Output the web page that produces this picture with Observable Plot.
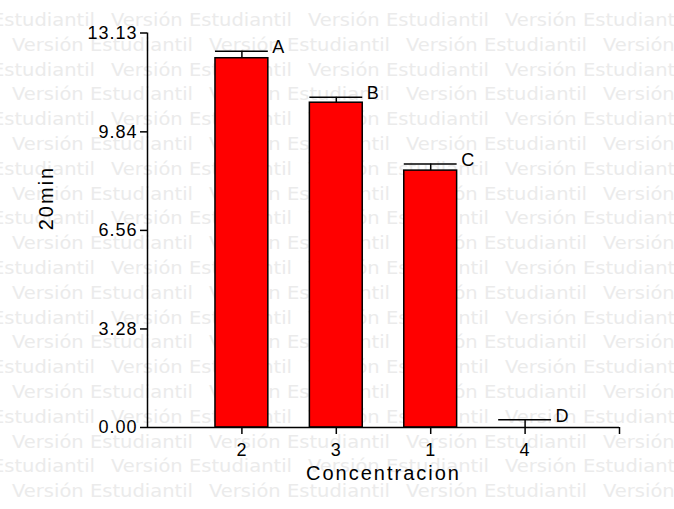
<!DOCTYPE html>
<html><head><meta charset="utf-8">
<script src="https://cdn.jsdelivr.net/npm/d3@7"></script>
<script src="https://cdn.jsdelivr.net/npm/@observablehq/plot@0.6"></script>
<style>
html,body{margin:0;padding:0;background:#fff;}
#wrap{position:relative;width:674px;height:509px;overflow:hidden;}
#wm{position:absolute;left:0;top:0;}
#chart{position:absolute;left:0;top:0;}
#chart svg{background:transparent !important;}
#chart svg text{letter-spacing:1px;}
</style></head><body>
<div id="wrap"><svg id="wm" width="674" height="509"></svg><div id="chart"></div></div>
<script>
const categories = ["2", "3", "1", "4"];
const means = [12.29, 10.81, 8.55, 0];
const errors = [0.23, 0.18, 0.22, 0.26];
const letters = ["A", "B", "C", "D"];
const yTicks = [0, 3.28, 6.56, 9.84, 13.13];
const xLabel = "Concentracion";
const yLabel = "20min";
const watermark = "Versión Estudiantil";

const data = categories.map((c, i) => ({cat: c, pos: i + 1, mean: means[i], top: means[i] + errors[i], letter: letters[i]}));
const half = 0.28;

// background watermark (decorative)
const wm = d3.select("#wm");
for (let r = 0; r < 20; r++) {
  const y = 26 + r * 24.8;
  const start = r % 2 === 0 ? -86 : 12;
  for (let k = 0; k < 5; k++) {
    const x = start + k * 197;
    if (x > 674) break;
    wm.append("text").attr("x", x).attr("y", y)
      .attr("textLength", 181).attr("lengthAdjust", "spacingAndGlyphs")
      .attr("font-family", "DejaVu Sans").attr("font-size", 18.5)
      .attr("fill", "#ebebeb").text(watermark);
  }
}

const xTickPos = categories.map((c, i) => i + 1).concat([categories.length + 1]);
const xTickLabels = categories.concat([""]);

const plot = Plot.plot({
  width: 674, height: 509,
  marginLeft: 147, marginRight: 55, marginTop: 32.5, marginBottom: 82,
  style: {background: "transparent", fontFamily: "Liberation Sans, Arial, sans-serif", color: "#000"},
  x: {type: "linear", domain: [0, categories.length + 1]},
  y: {domain: [0, yTicks[yTicks.length - 1]]},
  marks: [
    Plot.rectY(data, {x1: d => d.pos - half, x2: d => d.pos + half, y1: 0, y2: "mean", fill: "#ff0000", stroke: "#000", strokeWidth: 1.5}),
    Plot.ruleX(data, {x: "pos", y1: "mean", y2: "top", stroke: "#000", strokeWidth: 1.5}),
    Plot.ruleY(data, {y: "top", x1: d => d.pos - half, x2: d => d.pos + half, stroke: "#000", strokeWidth: 1.5}),
    Plot.text(data, {x: d => d.pos + half, y: "top", text: "letter", textAnchor: "start", lineAnchor: "bottom", dx: 4, dy: 2, fontSize: 18, fill: "#000"}),
    Plot.axisY({ticks: yTicks, tickFormat: d => d.toFixed(2), tickSize: 7, tickPadding: 3, fontSize: 18, label: null, strokeWidth: 1.5}),
    Plot.axisX({ticks: xTickPos, tickFormat: d => xTickLabels[d - 1], tickSize: 7, tickPadding: 9, fontSize: 18, label: null, strokeWidth: 1.5}),
    Plot.ruleX([0], {stroke: "#000", strokeWidth: 1.5}),
    Plot.ruleY([0], {stroke: "#000", strokeWidth: 1.5}),
    Plot.text([yLabel], {frameAnchor: "left", rotate: -90, dx: -101, fontSize: 20, fill: "#000"}),
    Plot.text([xLabel], {frameAnchor: "bottom", dy: 52, fontSize: 20, fill: "#000"})
  ]
});
document.getElementById("chart").appendChild(plot);
d3.select(plot).selectAll("text").filter(function() { return this.textContent === xLabel || this.textContent === yLabel; })
  .style("letter-spacing", "2px");
</script>
</body></html>
